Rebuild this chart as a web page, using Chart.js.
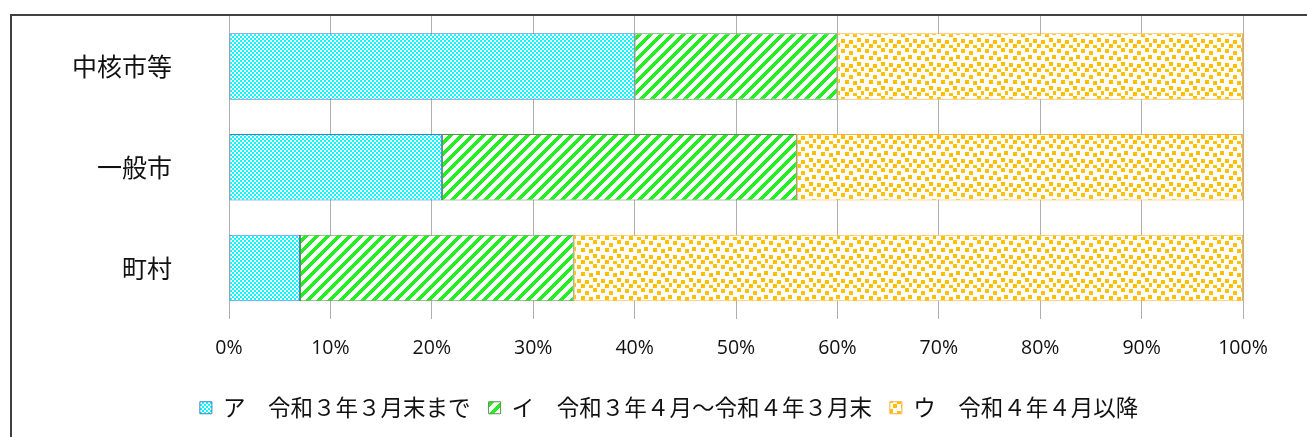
<!DOCTYPE html>
<html>
<head>
<meta charset="utf-8">
<script src="https://cdn.jsdelivr.net/npm/chart.js@4"></script>
<style>
  html, body { margin: 0; padding: 0; background: #fff; overflow: hidden; }
  #frame { position: absolute; left: 10px; top: 14px; width: 1400px; height: 600px; border: 2px solid #404040; box-sizing: border-box; }
  #wrap { position: absolute; left: 0; top: 0; width: 1307px; height: 437px; }
</style>
</head>
<body>
<div id="frame"></div>
<div id="wrap"><canvas id="c" width="1307" height="437"></canvas></div>
<script>
const categories = ['中核市等', '一般市', '町村'];
const seriesNames = ['ア　令和３年３月末まで', 'イ　令和３年４月～令和４年３月末', 'ウ　令和４年４月以降'];
const seriesA = [40, 21, 7];
const seriesI = [20, 35, 27];
const seriesU = [40, 44, 66];
const xTicks = [0, 10, 20, 30, 40, 50, 60, 70, 80, 90, 100];

function makeTile(w, h, draw) {
  const c = document.createElement('canvas');
  c.width = w; c.height = h;
  const g = c.getContext('2d');
  g.fillStyle = '#ffffff';
  g.fillRect(0, 0, w, h);
  draw(g);
  return document.createElement('canvas').getContext('2d').createPattern(c, 'repeat');
}

const cyanPattern = makeTile(4, 4, g => {
  g.fillStyle = '#00ffff';
  g.fillRect(0, 0, 2, 2);
  g.fillRect(2, 2, 2, 2);
});

const greenPattern = makeTile(11, 11, g => {
  g.fillStyle = '#22ee22';
  for (let y = 0; y < 11; y++) {
    for (let x = 0; x < 11; x++) {
      const d = (x + y) % 11;
      if (d < 5) g.fillRect(x, y, 1, 1);
    }
  }
});

const orangePattern = makeTile(24, 24, g => {
  g.fillStyle = '#ffc000';
  const pts = [[1,1],[9,3],[17,0],[5,8],[13,9],[20,7],[1,15],[9,16],[17,14],[5,20],[13,21],[21,19]];
  pts.forEach(p => g.fillRect(p[0], p[1], 4, 4));
});

const widenYAxis = {
  id: 'widenYAxis',
  afterLayout(chart) {
    const y = chart.scales.y;
    y.left = 0;
    y.width = y.right;
  }
};

const ctx = document.getElementById('c').getContext('2d');
new Chart(ctx, {
  type: 'bar',
  data: {
    labels: categories,
    datasets: [
      { label: seriesNames[0], data: seriesA, backgroundColor: cyanPattern, borderColor: '#3f7fc8', borderWidth: 1, borderSkipped: false },
      { label: seriesNames[1], data: seriesI, backgroundColor: greenPattern, borderColor: '#5e8a52', borderWidth: 1, borderSkipped: false },
      { label: seriesNames[2], data: seriesU, backgroundColor: orangePattern, borderColor: '#ffb03a', borderWidth: 1, borderSkipped: false }
    ]
  },
  plugins: [widenYAxis],
  options: {
    indexAxis: 'y',
    responsive: false,
    animation: false,
    devicePixelRatio: 1,
    layout: { padding: { top: 16, right: 64, bottom: 8, left: 95 } },
    datasets: { bar: { categoryPercentage: 1, barPercentage: 0.66 } },
    scales: {
      x: {
        stacked: true,
        min: 0, max: 100,
        afterBuildTicks: s => { s.ticks = xTicks.map(v => ({ value: v })); },
        ticks: { callback: v => v + '%', font: { family: 'Open Sans', size: 19.5 }, color: '#111', padding: 18, maxRotation: 0, autoSkip: false },
        grid: { color: '#b0b0b0', lineWidth: 1, drawTicks: false },
        border: { display: false },
        afterFit: s => { s.height = 60; }
      },
      y: {
        stacked: true,
        ticks: { font: { family: 'Noto Sans CJK JP', size: 25 }, color: '#111', padding: 57 },
        grid: { display: false, drawTicks: false },
        border: { display: false },
        afterFit: s => { s.width = 229 - 95; s.paddingTop = 0; s.paddingBottom = 0; }
      }
    },
    plugins: {
      legend: {
        position: 'bottom',
        labels: { font: { family: 'Noto Sans CJK JP', size: 22.5 }, color: '#111', boxWidth: 12, boxHeight: 12, padding: 18 }
      },
      tooltip: { enabled: false }
    }
  }
});
</script>
</body>
</html>
